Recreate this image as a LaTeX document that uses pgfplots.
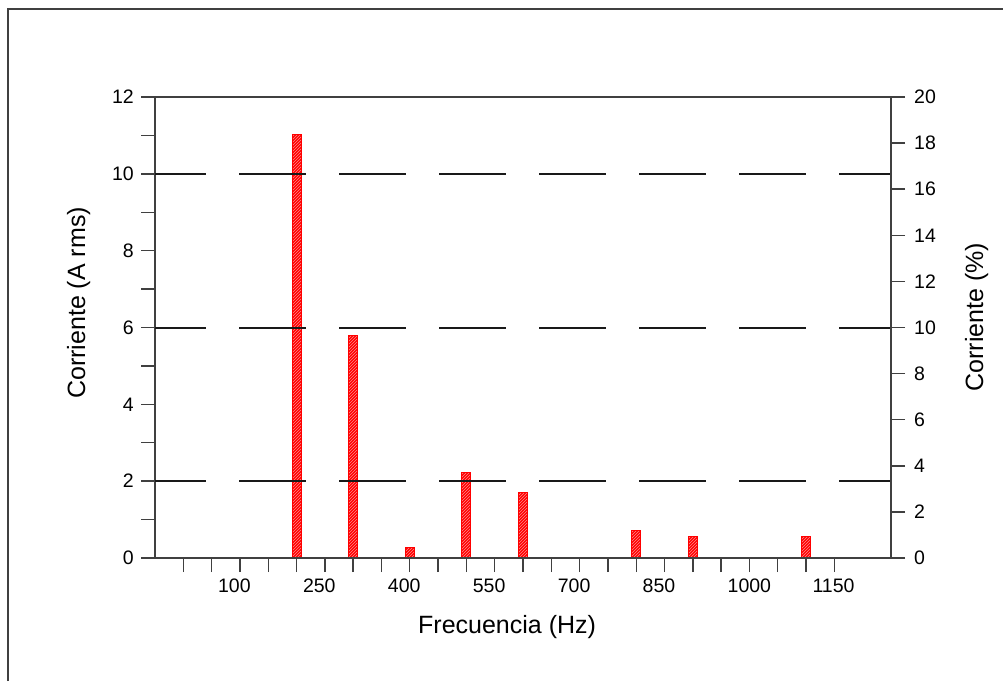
\documentclass[border=0pt]{standalone}
\usepackage{fontspec}
\setmainfont{Liberation Sans}
\usepackage{pgfplots}
\pgfplotsset{compat=1.18}
\usetikzlibrary{patterns}

% armonicos de corriente: frecuencia (Hz), corriente (A rms)
\pgfplotstableread{
f I
200 11.02
300 5.80
400 0.28
500 2.22
600 1.70
800 0.71
900 0.55
1100 0.55
}\armonicos

\definecolor{ejes}{gray}{0.25}

\begin{document}
\begin{tikzpicture}
\path[use as bounding box] (0pt,0pt) rectangle (1003pt,681pt);
\draw[line width=1.3pt, ejes] (8pt,0pt) -- (8pt,672pt) -- (1003pt,672pt);

\pgfplotsset{
  marco/.style={
    scale only axis, width=736pt, height=461pt,
    at={(155pt,123pt)}, anchor=south west,
    xmin=-50, xmax=1250,
    axis line style={line width=1.4pt, ejes},
    every tick/.style={line width=1.4pt, ejes},
    tick align=outside,
    major tick length=14pt, minor tick length=14pt,
    tick label style={font=\fontsize{19.5}{23}\selectfont, inner sep=0pt},
    label style={font=\fontsize{25}{30}\selectfont, inner sep=0pt},
  }
}

\begin{axis}[
  marco,
  ymin=0, ymax=12,
  xtick pos=left, ytick pos=left,
  xtick={100,250,...,1150},
  xticklabels={100,250,400,550,700,850,1000,1150},
  minor xtick={0,50,150,200,300,350,450,500,600,650,750,800,900,950,1050,1100},
  xticklabel style={anchor=north west, xshift=-22pt, yshift=-7pt},
  ytick={0,2,...,12},
  yticklabels={0,2,4,6,8,10,12},
  minor ytick={1,3,...,11},
  yticklabel style={anchor=east, xshift=-7pt},
  extra y ticks={2,6,10},
  extra y tick labels={,,},
  extra y tick style={ymajorgrids=true,
    major grid style={line width=2pt, black!90, dash pattern=on 67pt off 33pt, dash phase=16pt}},
  axis on top,
  ybar, bar width=9pt, bar shift=0pt,
  xlabel={Frecuencia (Hz)},
  xlabel style={at={(rel axis cs:0.3573,-0.1627)}, anchor=base west},
  ylabel={Corriente (A rms)},
  ylabel style={at={(rel axis cs:-0.0951,0.3449)}, anchor=base west},
]
\addplot[fill=red, draw=red, line width=0.8pt,
  postaction={pattern=north east lines, pattern color=white!55!red}]
  table[x=f, y=I] {\armonicos};
\end{axis}

\begin{axis}[
  marco,
  ymin=0, ymax=20,
  axis x line=none, axis y line*=right,
  ytick={0,2,...,20},
  yticklabels={0,2,4,6,8,10,12,14,16,18,20},
  yticklabel style={anchor=west, xshift=9pt},
  ylabel={Corriente (\%)},
  ylabel style={at={(rel axis cs:1.125,0.3607)}, anchor=base west},
]
\end{axis}
\end{tikzpicture}
\end{document}
